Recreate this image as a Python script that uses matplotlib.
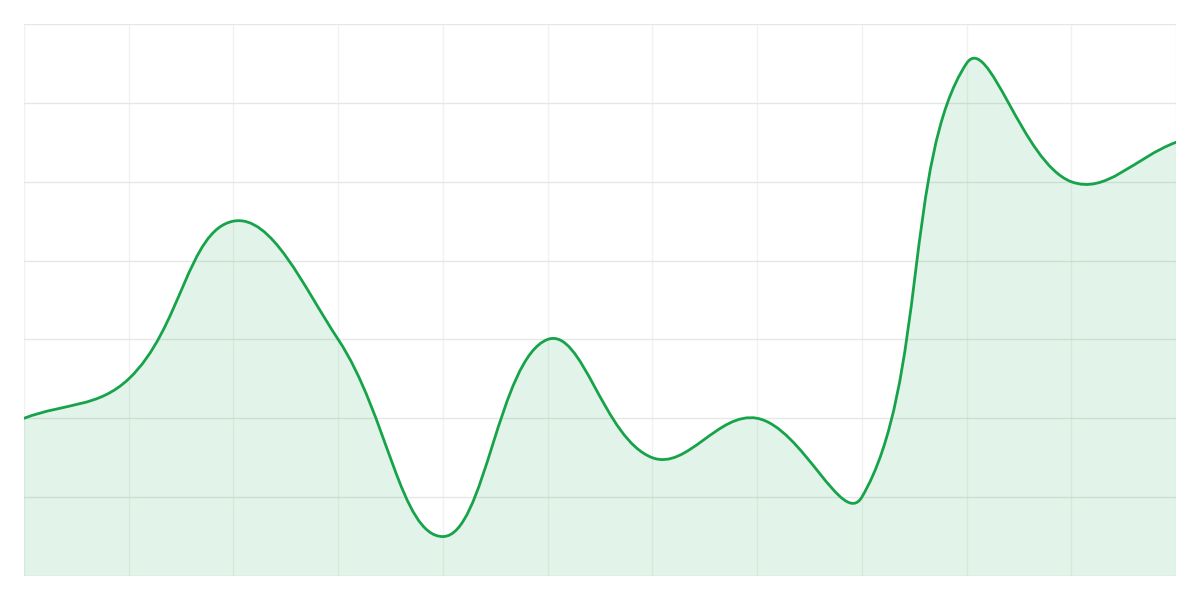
import numpy as np
import matplotlib
matplotlib.use("Agg")
import matplotlib.pyplot as plt
from matplotlib.path import Path
from matplotlib.patches import PathPatch

# Data (12 points, evenly spaced)
x_index = list(range(12))
values = [2.0, 2.5, 4.5, 3.0, 0.5, 3.0, 1.5, 2.0, 1.0, 6.5, 5.0, 5.5]
y_min, y_max = 0, 7

LINE_COLOR = "#16a34a"
FILL_COLOR = "#16a34a"
HGRID = "#e6e6e6"
VGRID = "#f1f1f1"

fig = plt.figure(figsize=(12, 6), dpi=100)
ax = fig.add_axes([24 / 1200, 24 / 600, 1152 / 1200, 552 / 600])
ax.set_xlim(0, len(values) - 1)
ax.set_ylim(y_min, y_max)
for s in ax.spines.values():
    s.set_visible(False)
ax.set_xticks([])
ax.set_yticks([])

# grid
for xi in x_index:
    ax.axvline(xi, color=VGRID, lw=1, zorder=0)
for yi in range(y_min, y_max + 1):
    ax.axhline(yi, color=HGRID, lw=1, zorder=0)

fig.canvas.draw()
trans = ax.transData
inv = trans.inverted()
pts = trans.transform(np.column_stack([x_index, values]))

# Chart.js-style spline control points (tension 0.4) in pixel space
tension = 0.4
n = len(pts)
cp_prev = pts.copy()
cp_next = pts.copy()
for i in range(n):
    p_prev = pts[i - 1] if i > 0 else pts[i]
    p_cur = pts[i]
    p_next = pts[i + 1] if i < n - 1 else pts[i]
    d01 = np.hypot(*(p_cur - p_prev))
    d12 = np.hypot(*(p_next - p_cur))
    tot = d01 + d12
    s01 = d01 / tot if tot else 0
    s12 = d12 / tot if tot else 0
    fa = tension * s01
    fb = tension * s12
    cp_prev[i] = p_cur - fa * (p_next - p_prev)
    cp_next[i] = p_cur + fb * (p_next - p_prev)

verts = [pts[0]]
codes = [Path.MOVETO]
for i in range(n - 1):
    verts += [cp_next[i], cp_prev[i + 1], pts[i + 1]]
    codes += [Path.CURVE4] * 3
verts_data = inv.transform(np.array(verts))

line_path = Path(verts_data, codes)
ax.add_patch(PathPatch(line_path, facecolor="none", edgecolor=LINE_COLOR,
                       lw=2.0, zorder=3, capstyle="round", joinstyle="round"))

fill_verts = list(verts_data) + [(x_index[-1], y_min), (x_index[0], y_min), verts_data[0]]
fill_codes = codes + [Path.LINETO, Path.LINETO, Path.CLOSEPOLY]
ax.add_patch(PathPatch(Path(fill_verts, fill_codes), facecolor=FILL_COLOR,
                       edgecolor="none", alpha=0.12, zorder=2))

fig.savefig("out.png", dpi=100)
